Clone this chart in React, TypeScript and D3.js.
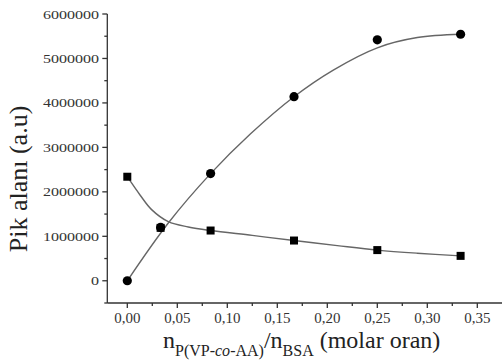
import * as d3 from 'd3';

// measured points
const ratios = [0, 0.0333, 0.0833, 0.1667, 0.25, 0.3333];
const circleVals = [0, 1200000, 2410000, 4140000, 5420000, 5545000];
const squareVals = [2340000, 1190000, 1130000, 905000, 690000, 560000];

// fitted curves
const circleFitX = [0, 0.041, 0.0833, 0.123, 0.1667, 0.206, 0.25, 0.29, 0.3333];
const circleFitY = [0, 1300000, 2410000, 3300000, 4140000, 4740000, 5240000, 5470000, 5545000];
const squareFitX = [0, 0.0127, 0.0243, 0.041, 0.061, 0.0833, 0.125, 0.1667, 0.21, 0.25, 0.29, 0.3333];
const squareFitY = [2340000, 1930000, 1600000, 1330000, 1210000, 1130000, 1020000, 905000, 790000, 690000, 620000, 560000];

const xTicks = [0, 0.05, 0.1, 0.15, 0.2, 0.25, 0.3, 0.35];
const xMinor = [-0.025, 0.025, 0.075, 0.125, 0.175, 0.225, 0.275, 0.325, 0.375];
const yTicks = [0, 1000000, 2000000, 3000000, 4000000, 5000000, 6000000];
const yMinor = [-500000, 500000, 1500000, 2500000, 3500000, 4500000, 5500000];

const x = d3.scaleLinear().domain([-0.02, 0.375]).range([107.3, 502.3]);
const y = d3.scaleLinear().domain([-500000, 6000000]).range([303, 14]);

const fmtX = (v: number) => d3.format('.2f')(v).replace('.', ',');

export default function App() {
  const line = d3.line<[number, number]>()
    .x(d => x(d[0]))
    .y(d => y(d[1]))
    .curve(d3.curveCatmullRom.alpha(0.5));

  const circleFit = line(circleFitX.map((v, i) => [v, circleFitY[i]] as [number, number]))!;
  const squareFit = line(squareFitX.map((v, i) => [v, squareFitY[i]] as [number, number]))!;
  const axisColor = '#333';
  const font = '"Liberation Serif", "Times New Roman", serif';

  return (
    <svg width={502} height={360} style={{ position: 'absolute', left: 0, top: 0, background: '#fff' }}
      fontFamily={font}>
      <rect width={502} height={360} fill="#fff" />

      {/* fitted curves */}
      <path d={squareFit} fill="none" stroke="#666" strokeWidth={1.4} />
      <path d={circleFit} fill="none" stroke="#666" strokeWidth={1.4} />

      {/* markers */}
      {ratios.map((r, i) => (
        <circle key={'c' + i} cx={x(r)} cy={y(circleVals[i])} r={4.6} fill="#000" />
      ))}
      {ratios.map((r, i) => (
        <rect key={'s' + i} x={x(r) - 4} y={y(squareVals[i]) - 4} width={8} height={8} fill="#000" />
      ))}

      {/* y axis */}
      <line x1={x.range()[0]} x2={x.range()[0]} y1={y.range()[1]} y2={y.range()[0]} stroke={axisColor} strokeWidth={1.3} />
      {yTicks.map(t => (
        <g key={'yt' + t}>
          <line x1={x.range()[0] - 5} x2={x.range()[0]} y1={y(t)} y2={y(t)} stroke={axisColor} strokeWidth={1.3} />
          <text x={99} y={y(t) + 4.5} textAnchor="end" fontSize={12.5} fill="#333"
            textLength={String(t).length * 8} lengthAdjust="spacingAndGlyphs">{String(t)}</text>
        </g>
      ))}
      {yMinor.map(t => (
        <line key={'ym' + t} x1={x.range()[0] - 3} x2={x.range()[0]} y1={y(t)} y2={y(t)} stroke={axisColor} strokeWidth={1.3} />
      ))}

      {/* x axis */}
      <line x1={x.range()[0]} x2={502} y1={y.range()[0]} y2={y.range()[0]} stroke={axisColor} strokeWidth={1.3} />
      {xTicks.map(t => (
        <g key={'xt' + t}>
          <line x1={x(t)} x2={x(t)} y1={y.range()[0]} y2={y.range()[0] + 5} stroke={axisColor} strokeWidth={1.3} />
          <text x={x(t)} y={323} textAnchor="middle" fontSize={15} fill="#333">{fmtX(t)}</text>
        </g>
      ))}
      {xMinor.filter(t => x(t) >= x.range()[0] && x(t) <= 502).map(t => (
        <line key={'xm' + t} x1={x(t)} x2={x(t)} y1={y.range()[0]} y2={y.range()[0] + 3} stroke={axisColor} strokeWidth={1.3} />
      ))}

      {/* axis titles */}
      <text transform="translate(27,179) rotate(-90)" textAnchor="middle" fontSize={26} fill="#222">Pik alanı (a.u)</text>
      <text x={163} y={347.5} fontSize={24} fill="#222">
        n
        <tspan fontSize={16} dy={8}>P(VP-<tspan fontStyle="italic">co</tspan>-AA)</tspan>
        <tspan dy={-8}>/n</tspan>
        <tspan fontSize={16} dy={8}>BSA</tspan>
        <tspan dy={-8}> (molar oran)</tspan>
      </text>
    </svg>
  );
}
